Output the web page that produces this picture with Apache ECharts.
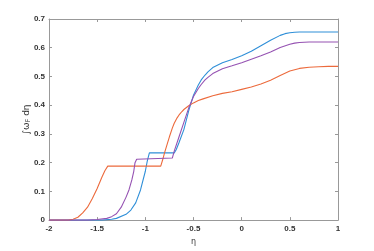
<!DOCTYPE html>
<html><head><meta charset="utf-8">
<script src="https://cdn.jsdelivr.net/npm/echarts@6/dist/echarts.min.js"></script>
<style>html,body{margin:0;padding:0;background:#fff}#c{width:374px;height:251px}</style>
</head><body><div id="c"></div>
<script>
const xTicks = ['-2','-1.5','-1','-0.5','0','0.5','1'];
const yTicks = ['0','0.1','0.2','0.3','0.4','0.5','0.6','0.7'];

const blueX = [-2,-1.45,-1.35,-1.3,-1.2,-1.15,-1.1,-1.05,-1.0,-0.98,-0.958,-0.70,-0.69,-0.68,-0.65,-0.6,-0.55,-0.5,-0.45,-0.42,-0.38,-0.35,-0.3,-0.2,-0.1,0,0.1,0.2,0.3,0.4,0.45,0.5,0.55,0.6,0.7,1];
const blueY = [0,0,0.003,0.006,0.02,0.035,0.06,0.105,0.17,0.205,0.234,0.234,0.24,0.245,0.27,0.315,0.38,0.435,0.47,0.488,0.505,0.516,0.531,0.548,0.559,0.572,0.588,0.607,0.626,0.643,0.649,0.652,0.654,0.655,0.655,0.655];

const orangeX = [-2,-1.8,-1.75,-1.7,-1.65,-1.6,-1.55,-1.5,-1.45,-1.42,-1.39,-0.84,-0.82,-0.8,-0.77,-0.75,-0.72,-0.7,-0.67,-0.65,-0.62,-0.6,-0.55,-0.5,-0.45,-0.4,-0.3,-0.2,-0.1,0,0.1,0.2,0.3,0.4,0.5,0.6,0.7,0.8,0.9,1];
const orangeY = [0,0,0.003,0.01,0.025,0.045,0.075,0.11,0.15,0.172,0.188,0.188,0.21,0.235,0.268,0.29,0.32,0.337,0.356,0.366,0.378,0.385,0.398,0.408,0.416,0.422,0.433,0.441,0.447,0.455,0.463,0.474,0.487,0.503,0.519,0.528,0.532,0.534,0.535,0.535];

const purpleX = [-2,-1.6,-1.5,-1.4,-1.35,-1.3,-1.25,-1.2,-1.17,-1.14,-1.12,-1.107,-1.09,-1.08,-0.72,-0.7,-0.65,-0.6,-0.55,-0.5,-0.45,-0.42,-0.38,-0.35,-0.3,-0.2,-0.1,0,0.1,0.2,0.3,0.4,0.5,0.55,0.6,0.7,0.8,1];
const purpleY = [0,0,0.002,0.006,0.012,0.022,0.045,0.08,0.105,0.14,0.17,0.2,0.212,0.216,0.216,0.24,0.29,0.34,0.39,0.43,0.458,0.472,0.488,0.497,0.51,0.527,0.537,0.548,0.56,0.572,0.585,0.601,0.612,0.616,0.618,0.62,0.62,0.62];

const pairs = (xs, ys) => xs.map((x, i) => [x, ys[i]]);

const labelStyle = {color:'#333', fontSize:8, fontWeight:'bold', fontFamily:'Liberation Sans, Arial, sans-serif'};
const lineCol = '#999';

const chart = echarts.init(document.getElementById('c'), null, {renderer:'canvas'});
chart.setOption({
  animation:false,
  backgroundColor:'#fff',
  grid:{left:49, right:36, top:19, bottom:28, show:false},
  xAxis:[{
    type:'value', min:-2, max:1, interval:0.5, position:'bottom',
    name:'η', nameLocation:'middle', nameGap:17,
    nameTextStyle:{color:'#333', fontSize:8, fontFamily:'DejaVu Sans, sans-serif'},
    axisLine:{show:true, onZero:false, lineStyle:{color:lineCol, width:1}},
    axisTick:{show:true, inside:true, length:3, lineStyle:{color:lineCol}},
    axisLabel:Object.assign({margin:5, formatter:(v)=>xTicks[Math.round((v+2)/0.5)]}, labelStyle),
    splitLine:{show:false}
  },{
    type:'value', min:-2, max:1, interval:0.5, position:'top',
    axisLine:{show:true, onZero:false, lineStyle:{color:lineCol, width:1}},
    axisTick:{show:true, inside:true, length:3, lineStyle:{color:lineCol}},
    axisLabel:{show:false}, splitLine:{show:false}
  }],
  yAxis:[{
    type:'value', min:0, max:0.7, interval:0.1, position:'left',
    name:'{a|∫ω}{sub|F}{a| dη}', nameLocation:'middle', nameGap:17, nameRotate:90,
    nameMoveOverlap:false,
    nameTextStyle:{rich:{
      a:{color:'#333', fontSize:9, fontFamily:'DejaVu Sans, sans-serif'},
      sub:{color:'#333', fontSize:6.5, fontFamily:'DejaVu Sans, sans-serif', padding:[4,0,0,0]}
    }},
    axisLine:{show:true, onZero:false, lineStyle:{color:lineCol, width:1}},
    axisTick:{show:true, inside:true, length:3, lineStyle:{color:lineCol}},
    axisLabel:Object.assign({margin:4, formatter:(v)=>yTicks[Math.round(v/0.1)]}, labelStyle),
    splitLine:{show:false}
  },{
    type:'value', min:0, max:0.7, interval:0.1, position:'right',
    axisLine:{show:true, onZero:false, lineStyle:{color:lineCol, width:1}},
    axisTick:{show:true, inside:true, length:3, lineStyle:{color:lineCol}},
    axisLabel:{show:false}, splitLine:{show:false}
  }],
  series:[
    {type:'line', name:'s1', data:pairs(blueX, blueY), showSymbol:false, symbol:'none', lineStyle:{color:'#2f8fd8', width:1.1}, itemStyle:{color:'#2f8fd8'}},
    {type:'line', name:'s2', data:pairs(orangeX, orangeY), showSymbol:false, symbol:'none', lineStyle:{color:'#ec6a3c', width:1.1}, itemStyle:{color:'#ec6a3c'}},
    {type:'line', name:'s3', data:pairs(purpleX, purpleY), showSymbol:false, symbol:'none', lineStyle:{color:'#9552b2', width:1.1}, itemStyle:{color:'#9552b2'}}
  ]
});
</script></body></html>
